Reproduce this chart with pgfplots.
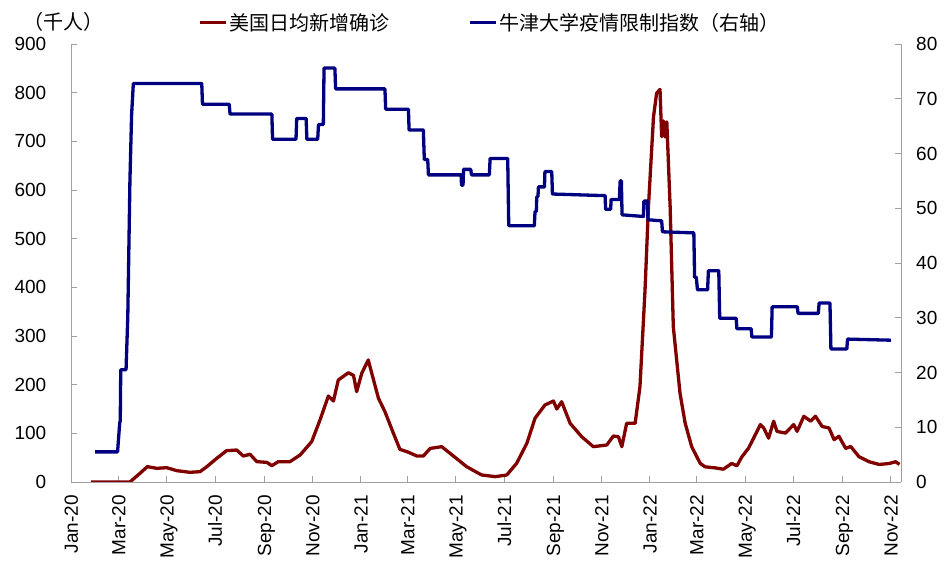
\documentclass[border=0pt]{standalone}
\usepackage{pgfplots}
\pgfplotsset{compat=1.18}
\usepackage{fontspec}
\setmainfont{Liberation Sans}
\newfontfamily\cjk{Noto Sans CJK SC}
\usetikzlibrary{calc}
\definecolor{cred}{RGB}{128,0,0}
\definecolor{cblue}{RGB}{0,0,128}
\definecolor{axgray}{RGB}{160,160,160}
\begin{document}
\begin{tikzpicture}
\pgfplotsset{
  common/.style={
    scale only axis, width=830pt, height=438pt,
    xmin=0, xmax=1048,
    tick align=inside, major tick length=6pt,
    every tick/.style={axgray, line width=0.9pt},
    axis line style={axgray, line width=0.9pt},
    tick label style={font=\fontsize{19}{22}\selectfont},
    /pgf/number format/assume math mode=true,
  }
}
\begin{axis}[common,
  name=ax,
  axis y line*=left, axis x line*=bottom,
  ymin=0, ymax=900, ytick={0,100,...,900},
  yticklabel style={inner xsep=0pt, xshift=-24.5pt},
  xtick={0,60,121,182,244,305,366,425,486,547,609,670,731,790,851,912,974,1035},
  xticklabels={Jan-20,Mar-20,May-20,Jul-20,Sep-20,Nov-20,Jan-21,Mar-21,May-21,Jul-21,Sep-21,Nov-21,Jan-22,Mar-22,May-22,Jul-22,Sep-22,Nov-22},
  xticklabel style={rotate=90, anchor=east, inner xsep=13pt, inner ysep=0pt, text height=13.6pt, text depth=0pt},
]
\addplot[cred, line width=3.3pt, line join=round] coordinates {
(25.3,0) (74.4,0) (87.2,18) (96.4,31.5) (108.3,28.1) (120.8,29.4) (133.6,23.3)
(150.1,19.9) (162.9,21.2) (171.5,31.5) (184.0,48.6) (196.5,64.4) (209.3,65.7)
(217.5,53.4) (226.1,56.9) (234.6,41.8) (247.1,40.4) (253.6,33.6) (261.8,41.8)
(276.5,41.8) (289.3,55.5) (303.9,82.9) (314.3,127) (325.0,176.7) (331.4,166.4)
(337.5,209.6) (350.3,224.6) (356.7,219) (360.7,185.6) (367.1,223.3) (375.3,250.7)
(388.2,172) (396.4,144.5) (407.1,100) (415.3,67.1) (424.8,62) (436.7,53.4)
(444.9,53.4) (453.5,69) (468.1,72.6) (484.9,50.7) (499.5,31.5) (518.5,14.4)
(535.6,11) (550.2,14.4) (562.7,38.4) (575.6,79.5) (585.9,130.9) (598.4,158.2)
(609.1,166.4) (613.4,150) (619.5,165) (630.2,120.6) (644.8,93.1) (659.5,72.6)
(676.5,76) (684.8,94.5) (691.2,93) (695.5,72.6) (701.6,120.6) (712.3,120.6)
(718.4,195.9) (724.8,394.5) (729.1,565.7) (735.5,750.6) (739.4,798.6) (743.7,806.8)
(745.8,709.5) (748.0,742) (750.1,709) (752.3,740) (756.5,565.7) (760.5,319)
(769.0,182) (775.5,120.6) (783.7,72.6) (794.4,38.4) (800.5,31.2) (813.3,29)
(823.7,26.3) (834.3,38.1) (840.8,33.3) (847.2,52) (855.4,69.3) (861.9,90)
(870.4,118) (874.7,111) (880.8,90) (887.2,125) (891.4,104) (902.1,100.5)
(912.5,118) (916.8,104) (925.3,135) (933.9,125) (940.0,135) (948.5,114)
(957.1,111) (963.5,87) (969.6,94) (978.1,69) (984.5,73) (994.9,52)
(1007.7,41.6) (1020.5,36) (1033.0,38) (1041.3,41.6) (1046.0,36)
};
\end{axis}
\begin{axis}[common,
  axis y line*=right, axis x line=none,
  ymin=0, ymax=80, ytick={0,10,...,80},
  yticklabel style={inner xsep=0pt, anchor=west, xshift=15pt},
  legend columns=2,
  legend style={draw=none, fill=none, inner sep=0pt, outer sep=0pt,
    at={(axis description cs:0.153,1.0486)}, anchor=west,
    font=\cjk\fontsize{20}{24}\selectfont,
    nodes={inner ysep=0pt, inner xsep=2pt},
    /tikz/every even column/.append style={column sep=77pt}},
  legend image code/.code={\draw[#1, line width=3.3pt] (0pt,0pt) -- (26pt,0pt);},
]
\addlegendimage{cred, line width=3.3pt}
\addlegendentry{美国日均新增确诊}
\addplot[cblue, line width=3.3pt, line join=round] coordinates {
(30.5,5.5) (58.8,5.5) (61.6,11.0) (62.2,11.0) (62.8,20.5) (69.5,20.5) (71.7,30.2)
(74.4,55) (76.5,67) (78.7,72.8) (165.1,72.8) (166.0,69.0) (199.8,69.0) (200.8,67.2)
(253.6,67.2) (254.5,62.6) (284.1,62.6) (285.0,66.4) (296.9,66.4) (297.8,62.6)
(311.5,62.6) (312.5,65.3) (318.6,65.3) (319.5,75.6) (333.2,75.6) (334.1,71.8)
(396.4,71.8) (397.3,68.1) (426.0,68.1) (426.9,64.3) (444.9,64.3) (446.1,58.9)
(450.4,58.9) (451.3,56.1) (492.5,56.1) (493.1,54.2) (495.0,54.2) (495.6,57.1)
(504.7,57.1) (505.7,56.1) (528.2,56.1) (529.2,59.1) (551.4,59.1) (552.7,46.8)
(585.0,46.8) (585.9,49.4) (587.5,49.4) (588.1,52.1) (589.6,52.1) (590.2,53.9)
(597.8,53.9) (598.4,56.7) (607.0,56.7) (607.9,52.6) (674.4,52.3) (675.0,49.8)
(681.4,49.8) (682.0,51.6) (692.4,51.6) (693.4,55.0) (694.9,55.0) (695.8,48.8)
(722.7,48.5) (723.3,51.3) (727.6,51.3) (728.5,47.9) (745.8,47.7) (746.8,45.7)
(786.4,45.5) (787.4,37.4) (789.5,37.4) (791.0,35.1) (803.8,35.1) (804.8,38.6)
(817.9,38.6) (819.1,29.9) (839.9,29.9) (840.8,28.0) (858.8,28.0) (859.7,26.5)
(884.4,26.5) (885.3,32.0) (917.1,32.0) (918.0,30.8) (943.6,30.8) (944.6,32.7)
(958.3,32.7) (959.5,24.3) (979.6,24.3) (980.5,26.1) (1035.2,25.9)
};
\addlegendentry{牛津大学疫情限制指数（右轴）}
\end{axis}
\node[font=\cjk\fontsize{20}{24}\selectfont, inner sep=0pt] at ($(ax.north west)+(-7.5pt,22pt)$) {（千人）};
\pgfresetboundingbox
\path[use as bounding box] ($(ax.south west)+(-71pt,-87pt)$) rectangle ($(ax.north east)+(49pt,44pt)$);
\end{tikzpicture}
\end{document}
